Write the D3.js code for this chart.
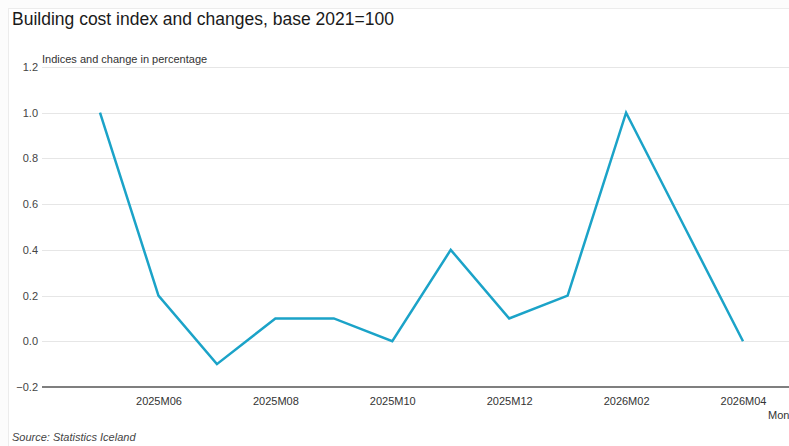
<!DOCTYPE html>
<html>
<head>
<meta charset="utf-8">
<script src="https://cdn.jsdelivr.net/npm/d3@7"></script>
<style>
  body { margin: 0; background: #fcfcfc; }
  svg { display: block; font-family: "Liberation Sans", Arial, sans-serif; }
</style>
</head>
<body>
<div id="container"></div>
<script>
// Chart data
let months = ["2025M05", "2025M06", "2025M07", "2025M08", "2025M09", "2025M10",
              "2025M11", "2025M12", "2026M01", "2026M02", "2026M03", "2026M04"];
let changes = [1.0, 0.2, -0.1, 0.1, 0.1, 0.0, 0.4, 0.1, 0.2, 1.0, 0.5, 0.0];
let yTicks = [-0.2, 0.0, 0.2, 0.4, 0.6, 0.8, 1.0, 1.2];
let xTickLabels = ["2025M06", "2025M08", "2025M10", "2025M12", "2026M02", "2026M04"];

let w = 789;
let h = 446;

let svg = d3.select("#container")
  .append("svg")
  .attr("width", w)
  .attr("height", h);

// faint panel behind the chart
svg.append("rect")
  .attr("x", 8.5).attr("y", 8.5)
  .attr("width", w).attr("height", h)
  .style("fill", "#fff")
  .style("stroke", "#ececec");

// Scales
let x = d3.scalePoint().domain(months).range([100, 743]);
let y = d3.scaleLinear().domain([-0.2, 1.2]).range([387, 67]);

let plotLeft = 42;

// Title
svg.append("text")
  .attr("x", 12).attr("y", 25)
  .style("font-size", "17.5px")
  .style("fill", "#1a1a1a")
  .text("Building cost index and changes, base 2021=100");

// Grid lines
svg.selectAll(".grid")
  .data(yTicks.filter(d => d > -0.2))
  .enter()
  .append("line")
    .attr("x1", plotLeft).attr("x2", w)
    .attr("y1", d => Math.round(y(d)) + 0.5)
    .attr("y2", d => Math.round(y(d)) + 0.5)
    .style("stroke", "#e6e6e6");

// Y axis labels
let yAxis = svg.append("g")
  .attr("transform", "translate(" + (plotLeft - 4) + ",0)")
  .call(d3.axisLeft(y).tickValues(yTicks).tickFormat(d3.format(".1f")).tickSize(0).tickPadding(0));
yAxis.select(".domain").remove();
yAxis.selectAll("text")
  .style("font-size", "11px")
  .style("fill", "#444")
  .style("font-family", "'Liberation Sans', Arial, sans-serif");

// Y axis title
svg.append("text")
  .attr("x", plotLeft).attr("y", 63)
  .style("font-size", "11px")
  .style("fill", "#333")
  .text("Indices and change in percentage");

// X axis
let xAxis = svg.append("g")
  .attr("transform", "translate(0," + y(-0.2) + ")")
  .call(d3.axisBottom(x).tickValues(xTickLabels).tickSize(0).tickPadding(10));
xAxis.select(".domain").remove();
xAxis.selectAll("text")
  .style("font-size", "11px")
  .style("fill", "#333")
  .style("font-family", "'Liberation Sans', Arial, sans-serif");

svg.append("line")
  .attr("x1", plotLeft).attr("x2", w)
  .attr("y1", y(-0.2)).attr("y2", y(-0.2))
  .style("stroke", "#555")
  .style("stroke-width", 1.5);

// X axis title (cut off by the frame edge, as in the original)
svg.append("text")
  .attr("x", 768).attr("y", 419)
  .style("font-size", "11px")
  .style("fill", "#333")
  .text("Month");

// The line
let line = d3.line()
  .x(function(d, i) { return x(months[i]); })
  .y(function(d) { return y(d); });

svg.append("path")
  .datum(changes)
  .attr("d", line)
  .style("fill", "none")
  .style("stroke", "#1ba3c8")
  .style("stroke-width", 2.5)
  .style("stroke-linejoin", "miter");

// Source
svg.append("text")
  .attr("x", 12).attr("y", 441)
  .style("font-size", "11px")
  .style("font-style", "italic")
  .style("fill", "#444")
  .text("Source: Statistics Iceland");
</script>
</body>
</html>
